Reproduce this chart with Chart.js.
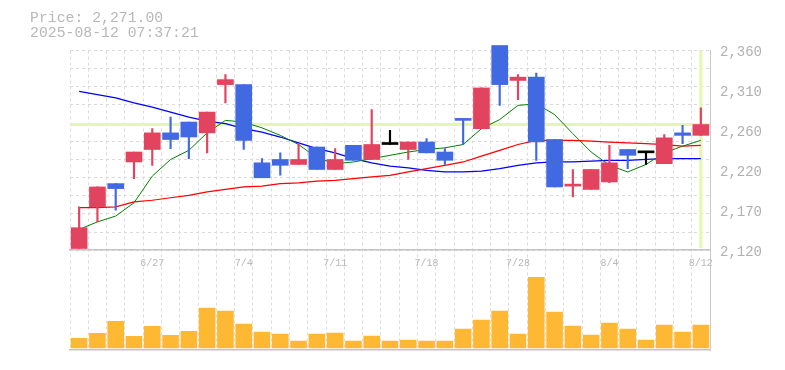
<!DOCTYPE html>
<html>
<head>
<meta charset="utf-8">
<title>Price / Volume</title>
<script src="https://cdn.jsdelivr.net/npm/chart.js@4"></script>
<style>
    body { margin: 0; background: #fff; }
    #wrap { position: relative; width: 785px; height: 370px; }
    #info {
        position: absolute; left: 30px; top: 11px;
        font-family: "Liberation Mono", "DejaVu Sans Mono", monospace;
        font-size: 14.8px; line-height: 15px; color: #b8b8b8;
    }
</style>
</head>
<body>
<div id="wrap">
    <canvas id="chart" width="785" height="370"></canvas>
    <div id="info">Price: 2,271.00<br>2025-08-12 07:37:21</div>
</div>
<script>
// trading days
const dates = ['6/23','6/24','6/25','6/26','6/27','6/30','7/1','7/2','7/3','7/4',
               '7/7','7/8','7/9','7/10','7/11','7/14','7/15','7/16','7/17','7/18',
               '7/22','7/23','7/24','7/25','7/28','7/29','7/30','7/31','8/1','8/4',
               '8/5','8/6','8/7','8/8','8/12'];
const xTickLabels = ['6/27','7/4','7/11','7/18','7/28','8/4','8/12'];

// OHLC
const open  = [2122,2172,2200,2226,2241,2261,2274,2261,2319,2319,2225,2229,2223,2244,2217,2246,2229,2247,2241,2250,
               2238,2278,2266,2366,2324,2328,2253,2197,2193,2202,2241,2237,2224,2261,2258];
const high  = [2172,2196,2200,2238,2266,2280,2274,2286,2331,2319,2230,2237,2248,2244,2242,2246,2289,2264,2250,2254,
               2242,2278,2315,2366,2331,2333,2253,2217,2217,2246,2241,2237,2259,2270,2291];
const low   = [2122,2154,2168,2206,2222,2242,2230,2237,2297,2241,2207,2210,2223,2217,2217,2228,2229,2247,2229,2237,
               2223,2247,2266,2294,2301,2228,2196,2184,2193,2201,2218,2223,2224,2248,2258];
const close = [2147,2196,2194,2238,2261,2253,2256,2286,2325,2252,2207,2222,2229,2217,2229,2228,2247,2247,2250,2237,
               2228,2276,2315,2319,2328,2250,2196,2199,2217,2225,2234,2237,2255,2258,2271];

// moving averages
const ma5  = [2145,2154,2161,2177,2209,2229,2240,2261,2276,2274,2267,2258,2247,2231,2224,2226,2230,2234,2238,2241,
              2243,2247,2266,2277,2294,2296,2283,2260,2238,2222,2214,2223,2237,2245,2252];
const ma25 = [2171,2171,2172,2178,2180,2183,2186,2190,2193,2196,2197,2200,2201,2203,2204,2206,2208,2210,2214,2218,
              2222,2226,2233,2240,2247,2252,2252,2252,2251,2250,2249,2248,2247,2245,2246];
const ma75 = [2311,2307,2303,2297,2292,2286,2280,2275,2272,2266,2262,2256,2249,2242,2237,2230,2225,2221,2219,2216,
              2214,2214,2215,2218,2222,2225,2226,2226,2227,2228,2228,2229,2230,2230,2230];

// volume
const volume = [97,147,267,117,217,127,167,400,370,240,160,140,70,140,150,70,120,70,80,70,
                70,190,280,370,140,707,360,220,130,250,190,80,230,160,230];

// price axis
const yTicks = [2120, 2168, 2216, 2264, 2312, 2360];
const yTickLabels = ['2,120', '2,170', '2,220', '2,260', '2,310', '2,360'];
const currentPrice = 2271;

let go = {};
go.yMin = yTicks[0];
go.yMax = yTicks[yTicks.length - 1];
go.gridCount = 11;          // dashed rows of the price pane
go.up = '#e2435f';
go.down = '#4169e1';
go.flat = '#000000';
go.gridColor = '#dadada';
go.font = '"Liberation Mono", "DejaVu Sans Mono", monospace';

function isGridValue(v){
    let k = (v - go.yMin) * go.gridCount / (go.yMax - go.yMin);
    return Math.abs(k - Math.round(k)) < 1e-6;
}

// current price line + last day marker
const priceLine = {
    id: 'priceLine',
    beforeDatasetsDraw(chart){
        const {ctx, chartArea, scales} = chart;
        let py = scales.y.getPixelForValue(currentPrice);
        let px = scales.x.getPixelForValue(dates.length - 1);
        ctx.save();
        ctx.strokeStyle = 'rgb(228,246,176)';
        ctx.lineWidth = 3;
        ctx.beginPath();
        ctx.moveTo(chartArea.left, py);
        ctx.lineTo(chartArea.right, py);
        ctx.moveTo(px, scales.y.top);
        ctx.lineTo(px, scales.y.bottom - 2);
        ctx.stroke();
        ctx.restore();
    }
};

function main(){
    go.colors = dates.map((d, i) => close[i] > open[i] ? go.up : (close[i] < open[i] ? go.down : go.flat));
    drawChart();
}

function drawChart(){
    let context = document.getElementById('chart').getContext('2d');

    go.chart = new Chart(context, {
        type: 'bar',
        data: {
            labels: dates,
            datasets: [
                {
                    label: 'body',
                    data: dates.map((d, i) => [open[i], close[i]]),
                    backgroundColor: go.colors,
                    barThickness: 16,
                    minBarLength: 2,
                    grouped: false,
                    clip: false,
                    yAxisID: 'y',
                    order: 0
                },
                {
                    label: 'wick',
                    data: dates.map((d, i) => [low[i], high[i]]),
                    backgroundColor: go.colors,
                    barThickness: 1.5,
                    grouped: false,
                    yAxisID: 'y',
                    order: 1
                },
                {
                    type: 'line', label: 'MA5', data: ma5,
                    borderColor: '#008000', borderWidth: 1, pointRadius: 0,
                    tension: 0, yAxisID: 'y', order: 2
                },
                {
                    type: 'line', label: 'MA25', data: ma25,
                    borderColor: '#ff0000', borderWidth: 1.25, pointRadius: 0,
                    tension: 0, yAxisID: 'y', order: 3
                },
                {
                    type: 'line', label: 'MA75', data: ma75,
                    borderColor: '#0000ff', borderWidth: 1.25, pointRadius: 0,
                    tension: 0, yAxisID: 'y', order: 4
                },
                {
                    label: 'volume',
                    data: volume,
                    backgroundColor: '#ffb834',
                    barThickness: 16,
                    grouped: false,
                    yAxisID: 'yv',
                    order: 5
                }
            ]
        },
        options: {
            responsive: false,
            animation: false,
            devicePixelRatio: 1,
            layout: { padding: { left: 70, top: 50.5, right: 0, bottom: 20 } },
            plugins: {
                legend: { display: false },
                tooltip: { enabled: false }
            },
            scales: {
                x: {
                    type: 'category',
                    position: { y: go.yMin },
                    offset: true,
                    grid: { offset: true, color: go.gridColor, drawTicks: false },
                    border: { color: '#c4c4c4', width: 1.5, dash: [3, 3] },
                    ticks: {
                        autoSkip: false,
                        maxRotation: 0,
                        padding: 7,
                        color: '#b8b8b8',
                        font: { family: go.font, size: 10 },
                        callback: function(value, index){
                            return xTickLabels.includes(dates[index]) ? dates[index] : '';
                        }
                    }
                },
                x2: {
                    type: 'category',
                    position: 'bottom',
                    offset: true,
                    grid: { display: false, drawTicks: false },
                    ticks: { display: false },
                    border: { color: '#c4c4c4', width: 1.5 }
                },
                y: {
                    position: 'right',
                    stack: 'pane',
                    stackWeight: 2,
                    min: go.yMin,
                    max: go.yMax,
                    afterBuildTicks: function(scale){
                        let values = yTicks.slice();
                        for (let k = 0; k <= go.gridCount; k++){
                            let v = go.yMin + (go.yMax - go.yMin) * k / go.gridCount;
                            if (!values.some(e => Math.abs(e - v) < 1e-6)) values.push(v);
                        }
                        values.sort((a, b) => a - b);
                        scale.ticks = values.map(v => ({ value: v }));
                    },
                    afterFit: function(scale){ scale.width = 75; },
                    grid: {
                        drawTicks: false,
                        color: ctx => isGridValue(ctx.tick.value) ? go.gridColor : 'rgba(0,0,0,0)'
                    },
                    border: { color: '#c8c8c8', dash: [3, 3] },
                    ticks: {
                        autoSkip: false,
                        padding: 10,
                        labelOffset: 2,
                        color: '#b0b0b0',
                        font: { family: go.font, size: 14 },
                        callback: function(value){
                            let k = yTicks.indexOf(value);
                            return k >= 0 ? yTickLabels[k] : '';
                        }
                    }
                },
                yv: {
                    position: 'right',
                    stack: 'pane',
                    stackWeight: 1,
                    min: -20,
                    max: 980,
                    afterFit: function(scale){ scale.width = 75; },
                    grid: { display: false, drawTicks: false },
                    ticks: { display: false },
                    border: { color: '#c8c8c8' }
                }
            }
        },
        plugins: [priceLine]
    });
}

main();
</script>
</body>
</html>
